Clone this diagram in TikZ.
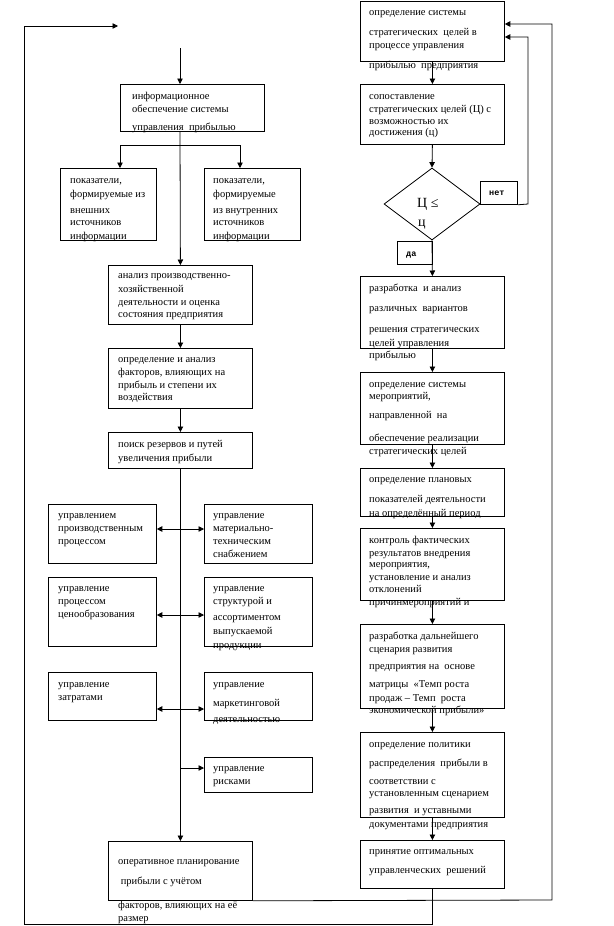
\documentclass[tikz,border=0pt]{standalone}
\usepackage{fontspec}
\setmainfont{Liberation Serif}
\newfontfamily\monofnt{Liberation Mono}
\usetikzlibrary{arrows.meta,shapes.geometric}
\tikzset{
  box/.style={draw, line width=0.8pt, inner sep=0pt, anchor=north west},
  txt/.style={anchor=base west, inner sep=0pt, font=\fontsize{10.5}{12}\selectfont},
  lbl/.style={anchor=base west, inner sep=0pt, font=\monofnt\bfseries\fontsize{8.5}{9}\selectfont},
  ln/.style={line width=0.8pt},
  arr/.style={line width=0.8pt, -{Triangle[width=5.5pt,length=5.5pt]}}
}
\newcommand\boxlines[3]{\foreach \lyy/\ltxt in {#3}{\node[txt] (#1-\lyy) at (#2,\lyy) {\ltxt};}}
\begin{document}
\begin{tikzpicture}[x=1pt,y=-1pt]
\useasboundingbox[fill=white] (0,0) rectangle (613,926);
% ---------- left column ----------
\node[box, minimum width=144pt, minimum height=47pt] (info) at (120,84) {};
\boxlines{info}{132}{99/{информационное}, 112/{обеспечение системы}, 130/{управления\ \ прибылью}}
\node[box, minimum width=96pt, minimum height=72pt] (ext) at (60,168) {};
\boxlines{ext}{70}{183/{показатели,}, 197/{формируемые из}, 213/{внешних}, 225/{источников}, 239/{информации}}
\node[box, minimum width=96pt, minimum height=72pt] (int) at (204,168) {};
\boxlines{int}{213}{183/{показатели,}, 197/{формируемые}, 213/{из внутренних}, 225/{источников}, 239/{информации}}
\node[box, minimum width=144pt, minimum height=59pt] (anal) at (108,265) {};
\boxlines{anal}{118}{278/{анализ производственно-}, 292/{хозяйственной}, 305/{деятельности и оценка}, 317/{состояния предприятия}}
\node[box, minimum width=144pt, minimum height=60pt] (fact) at (108,348) {};
\boxlines{fact}{118}{362/{определение и анализ}, 375/{факторов, влияющих на}, 388/{прибыль и степени их}, 400/{воздействия}}
\node[box, minimum width=144pt, minimum height=36pt] (srch) at (108,432) {};
\boxlines{srch}{118}{447/{поиск резервов и путей}, 461/{увеличения прибыли}}
\node[box, minimum width=108pt, minimum height=59pt] (L1) at (48,504) {};
\boxlines{L1}{58}{518/{управлением}, 531/{производственным}, 544/{процессом}}
\node[box, minimum width=108pt, minimum height=59pt] (R1) at (204,504) {};
\boxlines{R1}{213}{518/{управление}, 531/{материально-}, 544/{техническим}, 557/{снабжением}}
\node[box, minimum width=108pt, minimum height=69pt] (L2) at (48,577) {};
\boxlines{L2}{58}{591/{управление}, 604/{процессом}, 617/{ценообразования}}
\node[box, minimum width=108pt, minimum height=69pt] (R2) at (204,577) {};
\boxlines{R2}{213}{591/{управление}, 604/{структурой и}, 620/{ассортиментом}, 634/{выпускаемой}, 648/{продукции}}
\node[box, minimum width=108pt, minimum height=48pt] (L3) at (48,672) {};
\boxlines{L3}{58}{687/{управление}, 700/{затратами}}
\node[box, minimum width=108pt, minimum height=48pt] (R3) at (204,672) {};
\boxlines{R3}{213}{687/{управление}, 706/{маркетинговой}, 722/{деятельностью}}
\node[box, minimum width=108pt, minimum height=35pt] (R4) at (204,757) {};
\boxlines{R4}{213}{771/{управление}, 784/{рисками}}
\node[box, minimum width=144pt, minimum height=59pt] (oper) at (108,841) {};
\boxlines{oper}{118}{864/{оперативное планирование}, 884/{\ прибыли с учётом}, 908/{факторов, влияющих на её}, 921/{размер}}
% ---------- right column ----------
\node[box, minimum width=144pt, minimum height=60pt] (B1) at (360,1) {};
\boxlines{B1}{369}{15/{определение системы}, 35/{стратегических\ \ целей в}, 48/{процессе управления}, 68/{прибылью\ \ предприятия}}
\node[box, minimum width=144pt, minimum height=60pt] (B2) at (360,84) {};
\boxlines{B2}{369}{99/{сопоставление}, 112/{стратегических целей (Ц) с}, 124/{возможностью их}, 135/{достижения (ц)}}
\node[draw, line width=0.8pt, shape=diamond, inner sep=0pt, minimum width=96pt, minimum height=72pt] (dia) at (432,204) {};
\node[anchor=base west, inner sep=0pt, font=\fontsize{14}{16}\selectfont] (dia-t1) at (417,207) {Ц ≤};
\node[anchor=base west, inner sep=0pt, font=\fontsize{14}{16}\selectfont] (dia-t2) at (418,226) {ц};
\node[box, minimum width=37pt, minimum height=23pt] (net) at (480,181) {};
\node[lbl] (net-t) at (489,195) {нет};
\node[box, minimum width=35pt, minimum height=23pt] (da) at (397,241) {};
\node[lbl] (da-t) at (406,256) {да};
\node[box, minimum width=144pt, minimum height=72pt] (B3) at (360,276) {};
\boxlines{B3}{369}{291/{разработка\ \ и анализ}, 311/{различных\ \ вариантов}, 332/{решения стратегических}, 346/{целей управления}, 358/{прибылью}}
\node[box, minimum width=144pt, minimum height=72pt] (B4) at (360,372) {};
\boxlines{B4}{369}{387/{определение системы}, 399/{мероприятий,}, 418/{направленной\ \ на}, 441/{обеспечение реализации}, 454/{стратегических целей}}
\node[box, minimum width=144pt, minimum height=48pt] (B5) at (360,468) {};
\boxlines{B5}{369}{482/{определение плановых}, 502/{показателей деятельности}, 516/{на определённый период}}
\node[box, minimum width=144pt, minimum height=72pt] (B6) at (360,528) {};
\boxlines{B6}{369}{543/{контроль фактических}, 556/{результатов внедрения}, 567/{мероприятия,}, 580/{установление и анализ}, 592/{отклонений}, 605/{причинмероприятий и}}
\node[box, minimum width=144pt, minimum height=84pt] (B7) at (360,624) {};
\boxlines{B7}{369}{639/{разработка дальнейшего}, 652/{сценария развития}, 669/{предприятия на\ \ основе}, 687/{матрицы\ \ «Темп роста}, 701/{продаж – Темп\ \ роста}, 713/{экономической прибыли»}}
\node[box, minimum width=144pt, minimum height=85pt] (B8) at (360,732) {};
\boxlines{B8}{369}{747/{определение политики}, 766/{распределения\ \ прибыли в}, 784/{соответствии с}, 796/{установленным сценарием}, 813/{развития\ \ и уставными}, 827/{документами предприятия}}
\node[box, minimum width=144pt, minimum height=48pt] (B9) at (360,840) {};
\boxlines{B9}{369}{854/{принятие оптимальных}, 873/{управленческих\ \ решений}}
% ---------- coordinates ----------
\coordinate (tstart) at (180,48);
\coordinate (br) at (180,145);
\coordinate (brl) at (120,145);
\coordinate (brr) at (240,145);
\coordinate (ea) at (120,168);
\coordinate (ia) at (240,168);
\coordinate (j1) at (180,529);
\coordinate (j2) at (180,615);
\coordinate (j3) at (180,709);
\coordinate (j4) at (180,768);
\coordinate (tl) at (24,26);
\coordinate (tend) at (118,26);
\coordinate (bl) at (24,924);
\coordinate (rc) at (552,900);
\coordinate (nr) at (528,204);
% ---------- connectors ----------
\draw[arr] (tstart) -- (tstart |- info.north);
\draw[arr] (br |- info.south) -- (anal.north);
\draw[ln] (brl) -- (brr);
\draw[arr] (brl) -- (ea);
\draw[arr] (brr) -- (ia);
\draw[arr] (anal.south) -- (fact.north);
\draw[arr] (fact.south) -- (srch.north);
\draw[arr] (srch.south) -- (oper.north);
\draw[arr] (j1) -- (j1 -| L1.east);
\draw[arr] (j1) -- (j1 -| R1.west);
\draw[arr] (j2) -- (j2 -| L2.east);
\draw[arr] (j2) -- (j2 -| R2.west);
\draw[arr] (j3) -- (j3 -| L3.east);
\draw[arr] (j3) -- (j3 -| R3.west);
\draw[arr] (j4) -- (j4 -| R4.west);
\draw[arr] (B1.south) -- (B2.north);
\draw[arr] (B2.south) -- (dia.north);
\draw[arr] (dia.south) -- (B3.north);
\draw[arr] (B3.south) -- (B4.north);
\draw[arr] (B4.south) -- (B5.north);
\draw[arr] (B5.south) -- (B6.north);
\draw[arr] (B6.south) -- (B7.north);
\draw[arr] (B7.south) -- (B8.north);
\draw[arr] (B8.south) -- (B9.north);
\draw[arr] (net.south east) -- (nr) |- (B1.east |- 0,37);
\draw[arr] (oper.south east) -- (rc) |- (B1.east |- 0,24);
\draw[arr] (B9.south) |- (bl) -- (tl) -- (tend);
\end{tikzpicture}
\end{document}
